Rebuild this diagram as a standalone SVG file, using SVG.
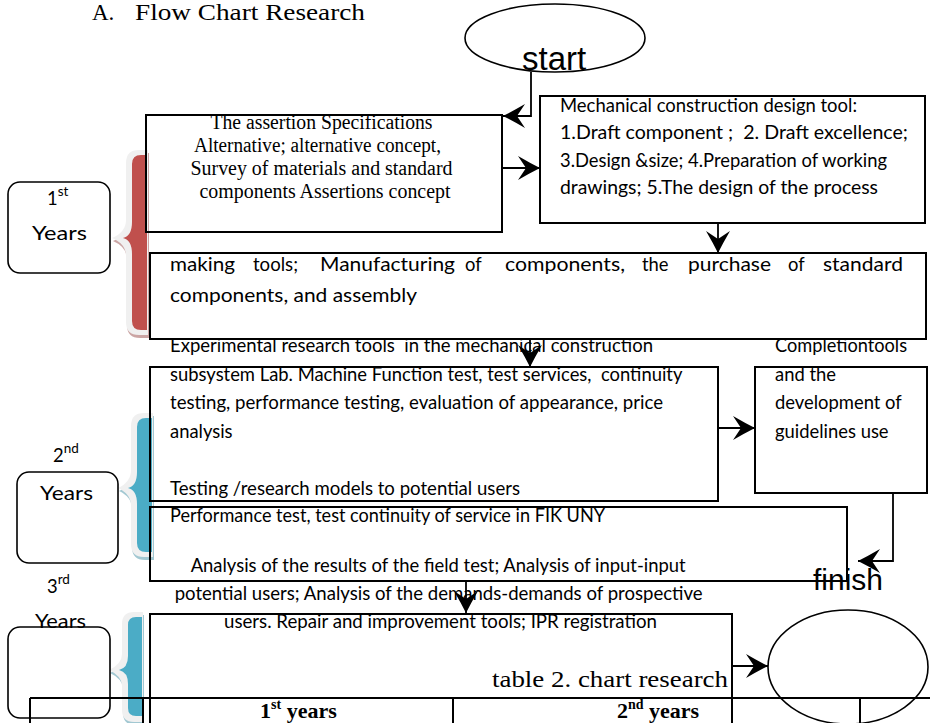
<svg xmlns="http://www.w3.org/2000/svg" width="930" height="723" viewBox="0 0 930 723">
<style>
.box{fill:none;stroke:#000;stroke-width:2}
.yr{fill:none;stroke:#000;stroke-width:1.6}
.cal{font-family:Lato,"Liberation Sans",sans-serif;font-size:18.4px;fill:#000}
.tnr{font-family:"Liberation Serif","Times New Roman",serif;fill:#000}
.ar{font-family:"Liberation Sans",Arial,sans-serif;fill:#000}
.conn{fill:none;stroke:#000;stroke-width:1.8;marker-end:url(#ah)}
.tl{stroke:#000;stroke-width:2;fill:none}
.halo{fill:#f0f0f0}
.redb{fill:#c0504d}
.blueb{fill:#4bacc6}
.rsh{fill:#8c3836;opacity:.45}
.bsh{fill:#31849b;opacity:.45}
</style>
<defs>
<marker id="ah" markerUnits="userSpaceOnUse" viewBox="-23 -13 24 26" refX="0" refY="0" markerWidth="24" markerHeight="26" orient="auto">
<path d="M0,0 Q-10,-5 -22,-12 L-14,0 L-22,12 Q-10,5 0,0 Z" fill="#000"/>
</marker>
</defs>
<rect width="930" height="723" fill="#fff"/>

<g id="title">
<text class="tnr" y="20" font-size="23"><tspan x="92">A.</tspan><tspan x="135" textLength="230" lengthAdjust="spacingAndGlyphs">Flow Chart Research</tspan></text>
</g>

<g id="braces">
<path class="rsh" d="M149,153 L140,153 Q127,153 127,166 L127,223 Q127,235 113,241 Q127,247 127,259 L127,325 Q127,338 140,338 L149,338 Z"/>
<path class="halo" d="M148,150 L139,150 Q126,150 126,163 L126,220 Q126,232 112,238 Q126,244 126,256 L126,322 Q126,335 139,335 L148,335 Z"/>
<path class="redb" d="M147,155 L141,155 Q132,155 132,164 L132,222 Q132,236 123,238 Q132,240 132,254 L132,321 Q132,330 141,330 L147,330 Z"/>
<path class="bsh" d="M154,416 L145,416 Q132,416 132,429 L132,473 Q132,485 119,491 Q132,497 132,509 L132,547 Q132,560 145,560 L154,560 Z"/>
<path class="halo" d="M153,413 L144,413 Q131,413 131,426 L131,470 Q131,482 118,488 Q131,494 131,506 L131,544 Q131,557 144,557 L153,557 Z"/>
<path class="blueb" d="M152,418 L146,418 Q137,418 137,427 L137,472 Q137,486 128,488 Q137,490 137,504 L137,543 Q137,552 146,552 L152,552 Z"/>
<path class="bsh" d="M144,615 L135,615 Q123,615 123,627 L123,657 Q123,667 110,673 Q123,679 123,689 L123,713 Q123,725 135,725 L144,725 Z"/>
<path class="halo" d="M143,612 L134,612 Q122,612 122,624 L122,654 Q122,664 109,670 Q122,676 122,686 L122,710 Q122,722 134,722 L143,722 Z"/>
<path class="blueb" d="M142,617 L136,617 Q128,617 128,625 L128,656 Q128,668 119,670 Q128,672 128,684 L128,708 Q128,716 136,716 L142,716 Z"/>
</g>

<g id="year1">
<rect class="yr" x="8" y="182" width="102" height="91" rx="12"/>
<text class="cal" font-size="21" x="47" y="205">1<tspan font-size="13.5" dy="-9">st</tspan></text>
<text class="cal" font-size="23" x="32" y="240" textLength="55" lengthAdjust="spacingAndGlyphs">Years</text>
</g>
<g id="year2">
<rect class="yr" x="17" y="472" width="101" height="91" rx="12"/>
<text class="cal" font-size="21" x="53" y="462">2<tspan font-size="13.5" dy="-9">nd</tspan></text>
<text class="cal" font-size="23" x="40" y="500" textLength="53" lengthAdjust="spacingAndGlyphs">Years</text>
</g>
<g id="year3">
<rect class="yr" x="8" y="627" width="102" height="91" rx="12"/>
<text class="cal" font-size="21" x="47" y="593">3<tspan font-size="13.5" dy="-9">rd</tspan></text>
<text class="cal" font-size="23" x="35" y="628" textLength="51" lengthAdjust="spacingAndGlyphs">Years</text>
</g>

<g id="start">
<ellipse cx="555" cy="38" rx="90" ry="34" fill="none" stroke="#000" stroke-width="1.6"/>
<text class="ar" x="522" y="70" font-size="33">start</text>
</g>

<g id="box1">
<rect class="box" x="146" y="115" width="356" height="117"/>
<text class="tnr" font-size="20" text-anchor="middle">
<tspan x="324" y="129" textLength="222" lengthAdjust="spacingAndGlyphs">The assertion Specifications</tspan>
<tspan x="320" y="152" textLength="247" lengthAdjust="spacingAndGlyphs">Alternative; alternative concept,</tspan>
<tspan x="324" y="175" textLength="262" lengthAdjust="spacingAndGlyphs">Survey of materials and standard</tspan>
<tspan x="325" y="198" textLength="251" lengthAdjust="spacingAndGlyphs">components Assertions concept</tspan>
</text>
</g>

<g id="box2">
<rect class="box" x="540" y="96" width="385" height="127"/>
<text class="cal" xml:space="preserve">
<tspan x="560" y="112" textLength="297" lengthAdjust="spacingAndGlyphs">Mechanical construction design tool:</tspan>
<tspan x="560" y="139" textLength="348" lengthAdjust="spacingAndGlyphs">1.Draft component ;  2. Draft excellence;</tspan>
<tspan x="560" y="166.5" textLength="327" lengthAdjust="spacingAndGlyphs">3.Design &amp;size; 4.Preparation of working</tspan>
<tspan x="560" y="194" textLength="318" lengthAdjust="spacingAndGlyphs">drawings; 5.The design of the process</tspan>
</text>
</g>

<g id="box3">
<rect class="box" x="150" y="253" width="776" height="86"/>
<text class="cal" font-size="21.5" y="271"><tspan x="170" textLength="65" lengthAdjust="spacingAndGlyphs">making</tspan><tspan x="253" textLength="45" lengthAdjust="spacingAndGlyphs">tools;</tspan><tspan x="320" textLength="135" lengthAdjust="spacingAndGlyphs">Manufacturing</tspan><tspan x="465">of</tspan><tspan x="505" textLength="120" lengthAdjust="spacingAndGlyphs">components,</tspan><tspan x="642">the</tspan><tspan x="688" textLength="83" lengthAdjust="spacingAndGlyphs">purchase</tspan><tspan x="788">of</tspan><tspan x="823" textLength="80" lengthAdjust="spacingAndGlyphs">standard</tspan></text>
<text class="cal" font-size="21.5" x="170" y="302" textLength="247" lengthAdjust="spacingAndGlyphs">components, and assembly</text>
</g>

<g id="box4">
<rect class="box" x="150" y="367" width="568" height="134"/>
<text class="cal" xml:space="preserve">
<tspan x="170" y="352" textLength="483" lengthAdjust="spacingAndGlyphs">Experimental research tools  in the mechanical construction</tspan>
<tspan x="170" y="380.5" textLength="512" lengthAdjust="spacingAndGlyphs">subsystem Lab. Machine Function test, test services,  continuity</tspan>
<tspan x="170" y="409" textLength="493" lengthAdjust="spacingAndGlyphs">testing, performance testing, evaluation of appearance, price</tspan>
<tspan x="170" y="437.5">analysis</tspan>
<tspan x="170" y="495" textLength="350" lengthAdjust="spacingAndGlyphs">Testing /research models to potential users</tspan>
</text>
</g>

<g id="box5">
<rect class="box" x="755" y="367" width="172" height="126"/>
<text class="cal">
<tspan x="775" y="352" textLength="132" lengthAdjust="spacingAndGlyphs">Completiontools</tspan>
<tspan x="775" y="380.5">and the</tspan>
<tspan x="775" y="409">development of</tspan>
<tspan x="775" y="437.5">guidelines use</tspan>
</text>
</g>

<g id="finish">
<text class="ar" x="813" y="590" font-size="30">finish</text>
</g>

<g id="box6">
<rect class="box" x="150" y="507" width="697" height="74"/>
<text class="cal" x="170" y="522" textLength="435" lengthAdjust="spacingAndGlyphs">Performance test, test continuity of service in FIK UNY</text>
<text class="cal" text-anchor="middle">
<tspan x="440.5" y="572" textLength="495" lengthAdjust="spacingAndGlyphs">Analysis of the results of the field test; Analysis of input-input</tspan>
<tspan x="441" y="600" textLength="528" lengthAdjust="spacingAndGlyphs">potential users; Analysis of the demands-demands of prospective</tspan>
<tspan x="440.5" y="628" textLength="433" lengthAdjust="spacingAndGlyphs">users. Repair and improvement tools; IPR registration</tspan>
</text>
</g>

<g id="box7">
<path class="box" d="M150,723 V614 H732 V723"/>
<text class="tnr" x="492" y="687" font-size="24" textLength="236" lengthAdjust="spacingAndGlyphs">table 2. chart research</text>
</g>

<g id="end">
<ellipse cx="848" cy="667" rx="80" ry="57" fill="none" stroke="#000" stroke-width="1.6"/>
</g>

<g id="table">
<path class="tl" d="M30,698 H930 M30,698 V723 M143,698 V723 M453,698 V723 M860,698 V723"/>
<text class="tnr" font-weight="bold" font-size="22" x="260" y="718">1<tspan font-size="14" dy="-9">st</tspan><tspan dy="9"> years</tspan></text>
<text class="tnr" font-weight="bold" font-size="22" x="617" y="718">2<tspan font-size="14" dy="-9">nd</tspan><tspan dy="9"> years</tspan></text>
</g>

<g id="connectors">
<path class="conn" d="M531,72 V116 H503"/>
<path class="conn" d="M502,168 H540"/>
<path class="conn" d="M718,223 V253"/>
<path class="conn" d="M530,339 V367"/>
<path class="conn" d="M718,428 H755"/>
<path class="conn" d="M893,493 V561 H858"/>
<path class="conn" d="M466,581 V613"/>
<path class="conn" d="M732,666 H768"/>
</g>
</svg>
